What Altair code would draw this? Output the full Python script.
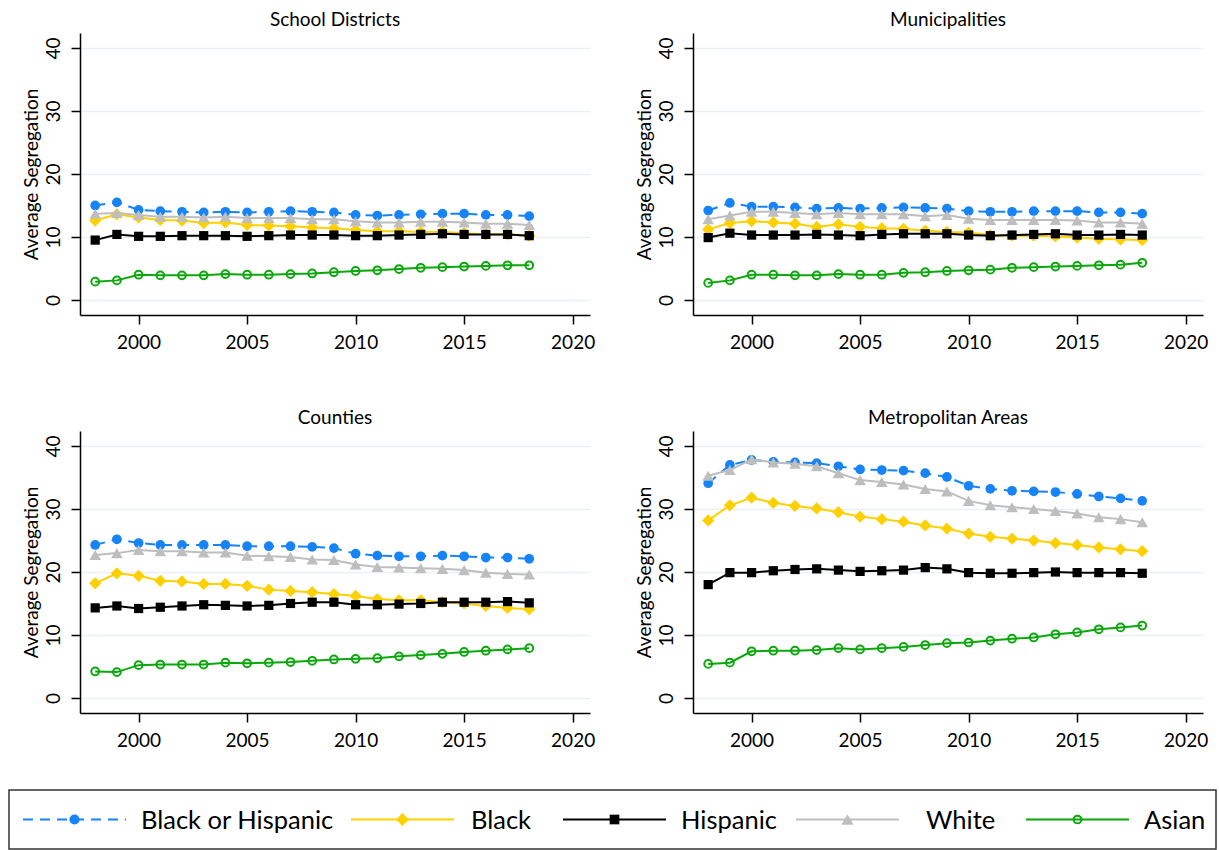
import altair as alt
import pandas as pd

# ---- data -------------------------------------------------------------
years = list(range(1998, 2019))
geographies = ["School Districts", "Municipalities", "Counties", "Metropolitan Areas"]
series_names = ["Black or Hispanic", "Black", "Hispanic", "White", "Asian"]

school_black_or_hispanic = [15.0, 15.5, 14.3, 14.1, 14.0, 13.9, 14.0, 13.9, 14.0, 14.1, 14.0,
                            13.9, 13.5, 13.4, 13.5, 13.6, 13.7, 13.7, 13.5, 13.5, 13.3]
school_black = [12.6, 13.6, 13.1, 12.7, 12.6, 12.2, 12.3, 11.9, 11.8, 11.7, 11.5,
                11.4, 11.1, 10.9, 10.9, 10.8, 10.8, 10.6, 10.4, 10.4, 10.2]
school_hispanic = [9.5, 10.4, 10.1, 10.1, 10.2, 10.2, 10.2, 10.1, 10.2, 10.3, 10.3,
                   10.3, 10.2, 10.2, 10.3, 10.4, 10.5, 10.4, 10.4, 10.4, 10.2]
school_white = [13.7, 13.8, 13.5, 13.2, 13.2, 13.1, 13.2, 13.0, 13.0, 13.0, 12.8,
                12.8, 12.5, 12.3, 12.3, 12.4, 12.4, 12.3, 12.1, 12.1, 11.9]
school_asian = [2.9, 3.1, 4.0, 3.9, 3.9, 3.9, 4.1, 4.0, 4.0, 4.1, 4.2,
                4.4, 4.6, 4.7, 4.9, 5.1, 5.2, 5.3, 5.4, 5.5, 5.5]

muni_black_or_hispanic = [14.2, 15.4, 14.8, 14.8, 14.7, 14.5, 14.6, 14.5, 14.6, 14.7, 14.6,
                          14.5, 14.1, 14.0, 14.0, 14.1, 14.1, 14.1, 13.9, 13.9, 13.7]
muni_black = [11.2, 12.2, 12.5, 12.3, 12.1, 11.6, 12.0, 11.6, 11.4, 11.3, 11.0,
              10.8, 10.7, 10.3, 10.2, 10.2, 10.1, 9.9, 9.7, 9.6, 9.5]
muni_hispanic = [9.9, 10.6, 10.3, 10.3, 10.3, 10.4, 10.3, 10.2, 10.4, 10.5, 10.5,
                 10.5, 10.3, 10.2, 10.3, 10.4, 10.5, 10.3, 10.3, 10.4, 10.3]
muni_white = [12.8, 13.4, 14.0, 14.0, 13.8, 13.6, 13.8, 13.6, 13.6, 13.6, 13.3,
              13.5, 12.9, 12.7, 12.7, 12.7, 12.7, 12.6, 12.3, 12.3, 12.1]
muni_asian = [2.7, 3.1, 4.0, 4.0, 3.9, 3.9, 4.1, 4.0, 4.0, 4.3, 4.4,
              4.6, 4.7, 4.8, 5.1, 5.2, 5.3, 5.4, 5.5, 5.6, 5.9]

county_black_or_hispanic = [24.3, 25.2, 24.6, 24.3, 24.3, 24.3, 24.3, 24.1, 24.1, 24.1, 24.0,
                            23.8, 22.9, 22.6, 22.5, 22.5, 22.6, 22.5, 22.3, 22.3, 22.1]
county_black = [18.2, 19.8, 19.4, 18.6, 18.5, 18.1, 18.1, 17.8, 17.2, 17.0, 16.8,
                16.5, 16.2, 15.7, 15.5, 15.5, 15.2, 15.0, 14.6, 14.3, 14.1]
county_hispanic = [14.3, 14.6, 14.2, 14.4, 14.6, 14.8, 14.7, 14.6, 14.7, 15.0, 15.2,
                   15.2, 14.8, 14.8, 14.9, 15.0, 15.2, 15.2, 15.2, 15.3, 15.1]
county_white = [22.7, 23.0, 23.5, 23.3, 23.3, 23.1, 23.1, 22.6, 22.5, 22.4, 22.0,
                21.9, 21.2, 20.8, 20.7, 20.6, 20.5, 20.3, 19.9, 19.7, 19.6]
county_asian = [4.2, 4.1, 5.2, 5.3, 5.3, 5.3, 5.6, 5.5, 5.6, 5.7, 5.9,
                6.1, 6.2, 6.3, 6.6, 6.8, 7.0, 7.3, 7.5, 7.7, 7.9]

metro_black_or_hispanic = [34.1, 37.0, 37.8, 37.5, 37.4, 37.3, 36.8, 36.3, 36.2, 36.1, 35.7,
                           35.1, 33.7, 33.2, 32.9, 32.8, 32.7, 32.4, 32.0, 31.7, 31.3]
metro_black = [28.2, 30.6, 31.8, 31.0, 30.5, 30.1, 29.5, 28.8, 28.4, 28.0, 27.4,
               26.9, 26.1, 25.6, 25.3, 25.0, 24.6, 24.3, 23.9, 23.6, 23.3]
metro_hispanic = [18.0, 19.9, 19.9, 20.2, 20.4, 20.5, 20.3, 20.1, 20.2, 20.3, 20.7,
                  20.5, 19.9, 19.8, 19.8, 19.9, 20.0, 19.9, 19.9, 19.9, 19.8]
metro_white = [35.3, 36.2, 37.9, 37.4, 37.2, 36.8, 35.7, 34.6, 34.3, 33.9, 33.2,
               32.8, 31.3, 30.6, 30.3, 30.0, 29.7, 29.3, 28.7, 28.4, 27.9]
metro_asian = [5.4, 5.6, 7.4, 7.5, 7.5, 7.6, 7.9, 7.7, 7.9, 8.1, 8.4,
               8.7, 8.8, 9.1, 9.4, 9.6, 10.1, 10.4, 10.9, 11.2, 11.5]

table = {
    "School Districts": [school_black_or_hispanic, school_black, school_hispanic, school_white, school_asian],
    "Municipalities": [muni_black_or_hispanic, muni_black, muni_hispanic, muni_white, muni_asian],
    "Counties": [county_black_or_hispanic, county_black, county_hispanic, county_white, county_asian],
    "Metropolitan Areas": [metro_black_or_hispanic, metro_black, metro_hispanic, metro_white, metro_asian],
}

rows = []
for geo in geographies:
    for name, vals in zip(series_names, table[geo]):
        for yr, v in zip(years, vals):
            rows.append({"geo": geo, "series": name, "year": yr, "value": v})
df = pd.DataFrame(rows)

# ---- styling ----------------------------------------------------------
FONT = "Lato"
FS = 19
styles = {
    "Black or Hispanic": dict(color="#1684F7", shape="circle", filled=True, size=95, dash=[10, 7]),
    "Black": dict(color="#FFD000", shape="diamond", filled=True, size=150, dash=None),
    "Hispanic": dict(color="#000000", shape="square", filled=True, size=85, dash=None),
    "White": dict(color="#BEBEBE", shape="triangle-up", filled=True, size=135, dash=None),
    "Asian": dict(color="#0AA80A", shape="circle", filled=False, size=60, dash=None),
}

PANEL_W, PANEL_H = 510, 282
x_scale = alt.Scale(domain=[1997.3, 2020.8], nice=False, zero=False)
y_scale = alt.Scale(domain=[-2.4, 42.4], nice=False, zero=False)

x_axis = alt.Axis(values=[2000, 2005, 2010, 2015, 2020], format="d", grid=False,
                  tickSize=9, labelPadding=9, title=None)
y_axis = alt.Axis(values=[0, 10, 20, 30, 40], grid=True, tickSize=9,
                  labelAngle=270, labelAlign="center", labelBaseline="bottom",
                  labelPadding=8, title="Average Segregation", titlePadding=3)


def line_layers(source, name):
    st = styles[name]
    sub = source.transform_filter(alt.datum.series == name)
    enc = dict(x=alt.X("year:Q", scale=x_scale, axis=x_axis),
               y=alt.Y("value:Q", scale=y_scale, axis=y_axis))
    line_kw = dict(color=st["color"], strokeWidth=2)
    if st["dash"]:
        line_kw["strokeDash"] = st["dash"]
    line = sub.mark_line(**line_kw).encode(**enc)
    if st["filled"]:
        pts = sub.mark_point(shape=st["shape"], filled=True, size=st["size"],
                             color=st["color"], opacity=1).encode(**enc)
    else:
        pts = sub.mark_point(shape=st["shape"], filled=False, size=st["size"],
                             color=st["color"], strokeWidth=2, opacity=1).encode(**enc)
    return [line, pts]


def panel(geo):
    base = alt.Chart(df).transform_filter(alt.datum.geo == geo)
    layers = []
    for name in series_names:
        layers += line_layers(base, name)
    return alt.layer(*layers).properties(
        width=PANEL_W, height=PANEL_H,
        title=alt.TitleParams(text=geo, font=FONT, fontSize=FS, fontWeight="normal",
                              color="black", offset=3, anchor="middle"),
    )


# ---- legend strip -----------------------------------------------------
LEG_W, LEG_H = 1207, 59
KEY_LEN = 103
legend_key_start = [14, 342, 554, 787, 1017]
legend_text_start = [132, 462, 672, 917, 1135]
legend_df = pd.DataFrame({"series": series_names,
                          "key_start": legend_key_start,
                          "text_start": legend_text_start})
leg_x = alt.Scale(domain=[0, LEG_W], nice=False, zero=False)
leg_base = alt.Chart(legend_df).transform_calculate(
    key_end=f"datum.key_start + {KEY_LEN}",
    key_mid=f"datum.key_start + {KEY_LEN / 2}",
)
leg_layers = []
for name in series_names:
    st = styles[name]
    sub = leg_base.transform_filter(alt.datum.series == name)
    rule_kw = dict(color=st["color"], strokeWidth=2)
    if st["dash"]:
        rule_kw["strokeDash"] = st["dash"]
    leg_layers.append(sub.mark_rule(**rule_kw).encode(
        x=alt.X("key_start:Q", scale=leg_x, axis=None), x2="key_end:Q",
        y=alt.value(LEG_H / 2)))
    if st["filled"]:
        mk = sub.mark_point(shape=st["shape"], filled=True, size=st["size"] * 1.1,
                            color=st["color"], opacity=1)
    else:
        mk = sub.mark_point(shape=st["shape"], filled=False, size=st["size"],
                            color=st["color"], strokeWidth=2, opacity=1)
    leg_layers.append(mk.encode(x=alt.X("key_mid:Q", scale=leg_x, axis=None),
                                y=alt.value(LEG_H / 2)))
    leg_layers.append(sub.mark_text(align="left", baseline="middle", font=FONT,
                                    fontSize=25.5, color="black").encode(
        x=alt.X("text_start:Q", scale=leg_x, axis=None), y=alt.value(LEG_H / 2 + 1),
        text="series:N"))

legend = alt.layer(*leg_layers).properties(
    width=LEG_W, height=LEG_H,
    view=alt.ViewBackground(stroke="#333333", strokeWidth=1.5),
)

# blank strip that sets the panels' left margin relative to the legend box
spacer = alt.Chart(pd.DataFrame({"s": [0]})).mark_point(opacity=0, size=1).encode(
    x=alt.value(5), y=alt.value(5)
).properties(width=11, height=10)

# ---- assemble ---------------------------------------------------------
top = alt.hconcat(panel(geographies[0]), panel(geographies[1]), spacing=38)
bottom = alt.hconcat(panel(geographies[2]), panel(geographies[3]), spacing=38)
grid = alt.hconcat(spacer, alt.vconcat(top, bottom, spacing=55), spacing=0)

chart = alt.vconcat(grid, legend, spacing=38).properties(
    padding={"left": 8, "top": 10, "right": 0, "bottom": 0},
    background="white",
).configure_view(
    stroke="transparent",
).configure_axis(
    labelFont=FONT, titleFont=FONT, labelFontSize=FS, titleFontSize=FS,
    labelColor="black", titleColor="black", titleFontWeight="normal",
    domainColor="black", domainWidth=1.5, tickColor="black", tickWidth=1.5,
    gridColor="#EAF0F3", gridWidth=1.5,
)

chart.save("out.html", embed_options={"renderer": "svg", "actions": False})
